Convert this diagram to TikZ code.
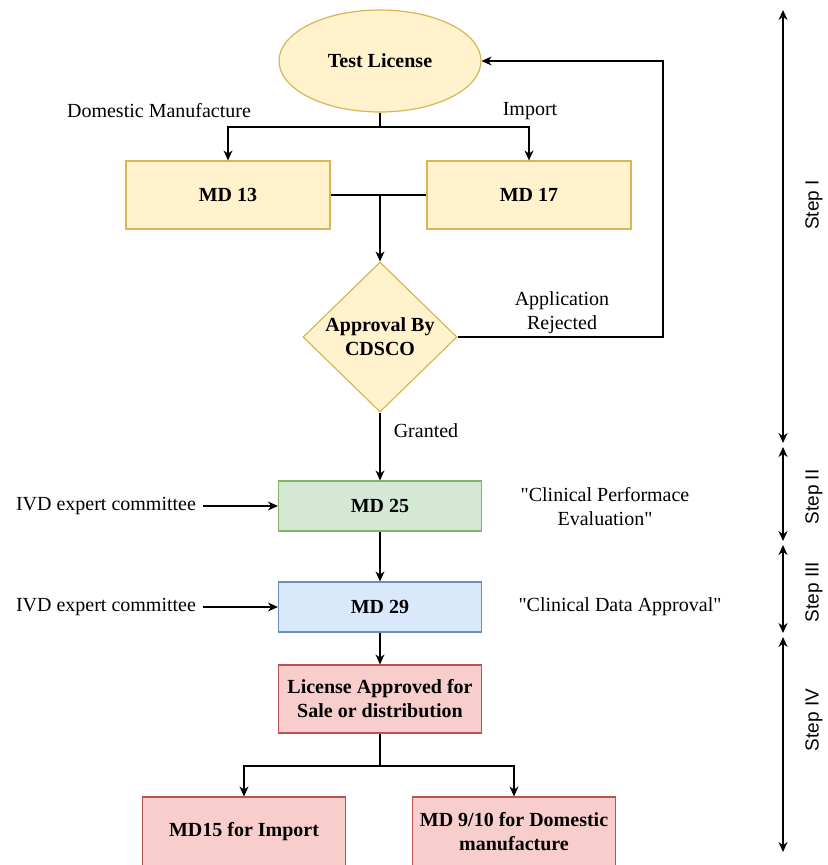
\documentclass[tikz,border=0pt]{standalone}
\usepackage{fontspec}
\setmainfont{Liberation Serif}
\newfontfamily\stepfont{Liberation Sans}
\usetikzlibrary{shapes.geometric, arrows.meta}
\definecolor{yfill}{HTML}{FFF2CC}
\definecolor{ydraw}{HTML}{D6B656}
\definecolor{gfill}{HTML}{D5E8D4}
\definecolor{gdraw}{HTML}{82B366}
\definecolor{bfill}{HTML}{DAE8FC}
\definecolor{bdraw}{HTML}{6C8EBF}
\definecolor{rfill}{HTML}{F8CECC}
\definecolor{rdraw}{HTML}{B85450}

\begin{document}
\begin{tikzpicture}[x=0.5pt, y=-0.5pt, >={Stealth[length=5pt,width=4.5pt]},
    font=\fontsize{10}{12}\selectfont, line width=0.6pt,
    block/.style={rectangle, draw, align=center, inner sep=2pt,
        font=\fontsize{10}{12}\selectfont\bfseries},
    yellowbox/.style={block, draw=ydraw, fill=yfill},
    greenbox/.style={block, draw=gdraw, fill=gfill},
    bluebox/.style={block, draw=bdraw, fill=bfill},
    redbox/.style={block, draw=rdraw, fill=rfill},
    steplabel/.style={rotate=90, font=\stepfont\fontsize{9.5}{11}\selectfont}]
\useasboundingbox (0,0) rectangle (827,865);
% step I
\node[yellowbox, ellipse, minimum width=101pt, minimum height=51pt] (test) at (380,61) {Test License};
\node[yellowbox, minimum width=102pt, minimum height=34pt] (md13) at (228,195) {MD 13};
\node[yellowbox, minimum width=102pt, minimum height=34pt] (md17) at (529,195) {MD 17};
\node[yellowbox, diamond, inner sep=0pt, minimum width=77pt, minimum height=75pt] (appr) at (380,337) {Approval By\\CDSCO};
\node (dom) at (159,111) {Domestic Manufacture};
\node (imp) at (530,111) {Import};
\node[align=center] (rej) at (562,313) {Application\\Rejected};
\node (grant) at (426,431) {Granted};
\coordinate (fork) at (380,127);
\coordinate (join) at (380,195);
\coordinate (back) at (663,61);
\draw (test.south) -- (fork);
\draw[->] (fork) -| (md13.north);
\draw[->] (fork) -| (md17.north);
\draw (md13.east) -- (md17.west);
\draw[->] (join) -- (appr.north);
\draw[->] (appr.east) -| (back) -- (test.east);
% step II and III
\node[greenbox, minimum width=101.5pt, minimum height=25pt] (md25) at (380,506) {MD 25};
\node[bluebox, minimum width=101.5pt, minimum height=25pt] (md29) at (380,607) {MD 29};
\node (ivd1) at (106,506) {IVD expert committee};
\node (ivd2) at (106,607) {IVD expert committee};
\node[align=center] (cpe) at (605,507) {\textquotedbl Clinical Performace\\Evaluation\textquotedbl};
\node (cda) at (620,607) {\textquotedbl Clinical Data Approval\textquotedbl};
\draw[->] (appr.south) -- (md25.north);
\draw[->] (ivd1.east) -- (md25.west);
\draw[->] (ivd2.east) -- (md29.west);
\draw[->] (md25.south) -- (md29.north);
% step IV
\node[redbox, minimum width=101.5pt, minimum height=34pt] (lic) at (380,699) {License Approved for\\Sale or distribution};
\node[redbox, minimum width=101.5pt, minimum height=35pt] (md15) at (244,832) {MD15 for Import};
\node[redbox, minimum width=101.5pt, minimum height=35pt] (md910) at (514,832) {MD 9/10 for Domestic\\manufacture};
\coordinate (fork2) at (380,766);
\draw[->] (md29.south) -- (lic.north);
\draw (lic.south) -- (fork2);
\draw[->] (fork2) -| (md15.north);
\draw[->] (fork2) -| (md910.north);
% step ranges
\coordinate (s0) at (783,10);
\coordinate (s1) at (783,443);
\coordinate (s2) at (783,447);
\coordinate (s3) at (783,541);
\coordinate (s4) at (783,545);
\coordinate (s5) at (783,633);
\coordinate (s6) at (783,637);
\coordinate (s7) at (783,852);
\draw[<->] (s0) -- (s1);
\draw[<->] (s2) -- (s3);
\draw[<->] (s4) -- (s5);
\draw[<->] (s6) -- (s7);
\node[steplabel] (st1) at (814,205) {Step I};
\node[steplabel] (st2) at (814,497) {Step II};
\node[steplabel] (st3) at (814,592) {Step III};
\node[steplabel] (st4) at (814,720) {Step IV};
\end{tikzpicture}
\end{document}
